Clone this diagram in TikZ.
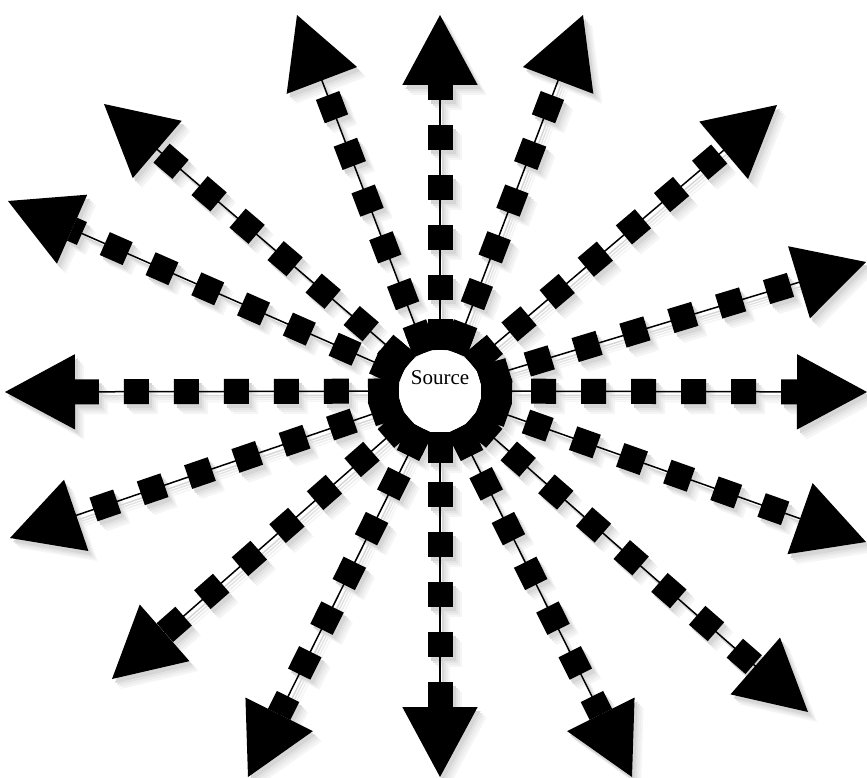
\documentclass[tikz,border=0pt]{standalone}
\usepackage{fontspec}
\setmainfont{Liberation Serif}
\usetikzlibrary{arrows.meta,backgrounds,calc}

\begin{document}
\begin{tikzpicture}[
  x=1pt, y=-1pt,
  srcnode/.style={circle, fill=white, minimum size=82pt, inner sep=0pt},
  srctext/.style={font=\fontsize{21}{25}\selectfont, inner sep=0pt},
  stem/.style={line width=1.5pt, -{Triangle[length=70pt, width=75pt]}},
  squares/.style={line width=25pt, dash pattern=on 25pt off 25pt, shorten >=70pt},
  collar/.style={line width=25pt},
]
\useasboundingbox (0,0) rectangle (867,778);

\node[srcnode] (src) at (440,391) {};
\node[srctext] (srclabel) at (440,378) {Source};

% arrow tips, clockwise from the right
\coordinate (t1) at (867,392);
\coordinate (t2) at (866,262);
\coordinate (t3) at (777,105);
\coordinate (t4) at (583,15);
\coordinate (t5) at (440,15);
\coordinate (t6) at (297,15);
\coordinate (t7) at (104,104);
\coordinate (t8) at (8,201);
\coordinate (t9) at (5,392);
\coordinate (t10) at (10,538);
\coordinate (t11) at (112,679);
\coordinate (t12) at (248,777);
\coordinate (t13) at (440,777);
\coordinate (t14) at (632,777);
\coordinate (t15) at (808,712);
\coordinate (t16) at (866,542);

\begin{scope}[on background layer]
  % soft shadow
  \foreach \dx/\dy/\shade in {9/10/4, 7/8/7, 5/6/11, 3/4/16} {
    \begin{scope}[transform canvas={shift={(\dx,\dy)}}, color=black!\shade]
      \foreach \i in {1,...,16} {
        \draw[collar] (src) -- ($(src.center)!72pt!(t\i)$);
        \draw[squares] (src) -- (t\i);
        \draw[stem] (src) -- (t\i);
      }
    \end{scope}
  }
  \foreach \i in {1,...,16} {
    \draw[collar] (src) -- ($(src.center)!72pt!(t\i)$);
    \draw[squares] (src) -- (t\i);
    \draw[stem] (src) -- (t\i);
  }
\end{scope}

\end{tikzpicture}
\end{document}
